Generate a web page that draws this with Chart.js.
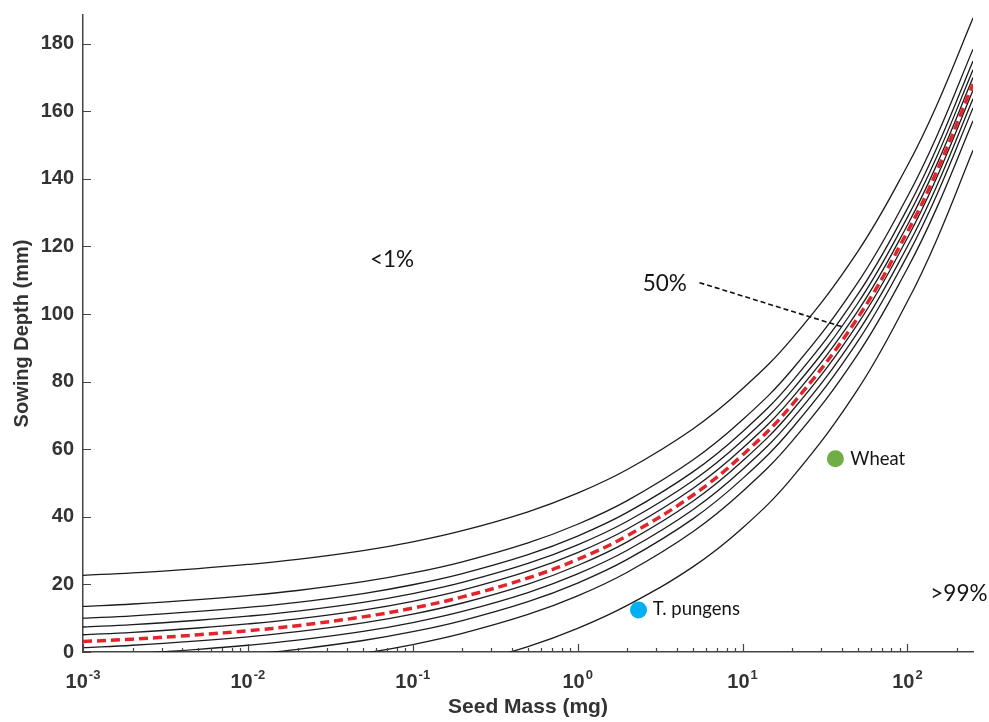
<!DOCTYPE html>
<html>
<head>
<meta charset="utf-8">
<script src="https://cdn.jsdelivr.net/npm/chart.js@4.4.1/dist/chart.umd.min.js"></script>
<style>
  html, body { margin: 0; padding: 0; background: #fff; }
  #wrap { width: 989px; height: 722px; }
</style>
</head>
<body>
<div id="wrap"><canvas id="depthChart" width="989" height="722"></canvas></div>
<script>
// seed mass (mg) sample points, log axis
var seedMass = [0.001, 0.002, 0.005, 0.01, 0.02, 0.05, 0.1, 0.2, 0.5, 1, 2, 5, 10, 20, 50, 100, 150, 250];

// sowing depth (mm) for each emergence curve
var depthP1  = [22.7, 23.4, 24.7, 25.9, 27.4, 30.0, 32.6, 35.9, 41.5, 47.0, 54.0, 66.0, 77.9, 92.8, 118.5, 143.9, 161.6, 187.6];
var depthP10 = [13.5, 14.2, 15.5, 16.7, 18.2, 20.8, 23.4, 26.7, 32.3, 37.8, 44.8, 56.8, 68.7, 83.6, 109.3, 134.7, 152.4, 178.4];
var depthP20 = [10.0, 10.7, 12.0, 13.2, 14.7, 17.3, 19.9, 23.2, 28.8, 34.3, 41.3, 53.3, 65.2, 80.1, 105.8, 131.2, 148.9, 174.9];
var depthP30 = [7.4, 8.1, 9.4, 10.6, 12.1, 14.7, 17.3, 20.6, 26.2, 31.7, 38.7, 50.7, 62.6, 77.5, 103.2, 128.6, 146.3, 172.3];
var depthP40 = [5.1, 5.8, 7.1, 8.3, 9.8, 12.4, 15.0, 18.3, 23.9, 29.4, 36.4, 48.4, 60.3, 75.2, 100.9, 126.3, 144.0, 170.0];
var depthP50 = [3.1, 3.8, 5.1, 6.3, 7.8, 10.4, 13.0, 16.3, 21.9, 27.4, 34.4, 46.4, 58.3, 73.2, 98.9, 124.3, 142.0, 168.0];
var depthP60 = [1.3, 2.0, 3.3, 4.5, 6.0, 8.6, 11.2, 14.5, 20.1, 25.6, 32.6, 44.6, 56.5, 71.4, 97.1, 122.5, 140.2, 166.2];
var depthP70 = [-1.2, -0.5, 0.8, 2.0, 3.5, 6.1, 8.7, 12.0, 17.6, 23.1, 30.1, 42.1, 54.0, 68.9, 94.6, 120.0, 137.7, 163.7];
var depthP80 = [-3.9, -3.2, -1.9, -0.7, 0.8, 3.4, 6.0, 9.3, 14.9, 20.4, 27.4, 39.4, 51.3, 66.2, 91.9, 117.3, 135.0, 161.0];
var depthP90 = [-7.7, -7.0, -5.7, -4.5, -3.0, -0.4, 2.2, 5.5, 11.1, 16.6, 23.6, 35.6, 47.5, 62.4, 88.1, 113.5, 131.2, 157.2];
var depthP99 = [-17.1, -16.4, -15.1, -13.9, -12.4, -9.8, -7.2, -3.9, 1.6, 7.0, 13.8, 25.2, 36.7, 51.6, 77.7, 103.7, 121.8, 148.5];

var blackCurves = [depthP1, depthP10, depthP20, depthP30, depthP40, depthP60, depthP70, depthP80, depthP90, depthP99];

// species points [mass, depth]
var wheatPoint = [36.6, 57.2];
var pungensPoint = [2.34, 12.4];

// text annotations [text, mass, depth, font size]
var notes = [
  ['<1%', 0.055, 116, 22.5],
  ['50%', 2.48, 109, 22.5],
  ['>99%', 137.7, 17.2, 22.5],
  ['Wheat', 45.1, 57.2, 18.5],
  ['T. pungens', 2.85, 12.6, 18.5]
];
var leaderLine = [[5.48, 109.3], [39.8, 96.3]];

var yTicks = [0, 20, 40, 60, 80, 100, 120, 140, 160, 180];
var xDecades = [-3, -2, -1, 0, 1, 2];

function pts(values) {
  return seedMass.map(function (m, i) { return { x: m, y: values[i] }; });
}

var datasets = [];
datasets.push({
  data: pts(depthP50), borderColor: '#e3242b', borderWidth: 3.5, borderDash: [9, 5],
  pointRadius: 0, tension: 0.4, order: 0
});
blackCurves.forEach(function (c) {
  datasets.push({
    data: pts(c), borderColor: '#1c1c1c', borderWidth: 1.3,
    pointRadius: 0, tension: 0.4, order: 1
  });
});
datasets.push({
  data: leaderLine.map(function (p) { return { x: p[0], y: p[1] }; }),
  borderColor: '#111', borderWidth: 1.6, borderDash: [5, 3], pointRadius: 0, order: -1, clip: false
});
datasets.push({
  data: [{ x: wheatPoint[0], y: wheatPoint[1] }], showLine: false,
  pointRadius: 8.5, pointBackgroundColor: '#70ad47', pointBorderWidth: 0, order: -2
});
datasets.push({
  data: [{ x: pungensPoint[0], y: pungensPoint[1] }], showLine: false,
  pointRadius: 8.5, pointBackgroundColor: '#00b0f0', pointBorderWidth: 0, order: -2
});

var axisDecor = {
  id: 'axisDecor',
  afterDraw: function (chart) {
    var ctx = chart.ctx, xs = chart.scales.x, ys = chart.scales.y, area = chart.chartArea;
    ctx.save();
    ctx.strokeStyle = '#444';
    ctx.lineWidth = 1.2;
    ctx.beginPath();
    // y ticks, inward
    yTicks.forEach(function (v) {
      var py = Math.round(ys.getPixelForValue(v)) + 0.5;
      ctx.moveTo(area.left, py); ctx.lineTo(area.left + 8, py);
    });
    // x ticks, inward (major and minor)
    xDecades.forEach(function (e) {
      for (var k = 1; k <= 9; k++) {
        var v = k * Math.pow(10, e);
        if (v > xs.max) break;
        var px = Math.round(xs.getPixelForValue(v)) + 0.5;
        var len = k === 1 ? 8 : 4;
        ctx.moveTo(px, area.bottom); ctx.lineTo(px, area.bottom - len);
      }
    });
    ctx.stroke();

    // x tick labels 10^n
    ctx.fillStyle = '#333';
    ctx.textBaseline = 'alphabetic';
    xDecades.forEach(function (e) {
      var px = xs.getPixelForValue(Math.pow(10, e));
      ctx.font = 'bold 20px "Liberation Sans", Arial, sans-serif';
      var w1 = ctx.measureText('10').width;
      ctx.font = 'bold 13px "Liberation Sans", Arial, sans-serif';
      var w2 = ctx.measureText(String(e)).width;
      var x0 = px - (w1 + w2 + 1) / 2;
      ctx.font = 'bold 20px "Liberation Sans", Arial, sans-serif';
      ctx.textAlign = 'left';
      ctx.fillText('10', x0, area.bottom + 36);
      ctx.font = 'bold 13px "Liberation Sans", Arial, sans-serif';
      ctx.fillText(String(e), x0 + w1 + 1, area.bottom + 27);
    });

    // annotations
    ctx.fillStyle = '#141414';
    ctx.textBaseline = 'middle';
    ctx.textAlign = 'left';
    notes.forEach(function (n) {
      ctx.font = n[3] + 'px Lato, "Open Sans", sans-serif';
      ctx.fillText(n[0], xs.getPixelForValue(n[1]), ys.getPixelForValue(n[2]));
    });
    ctx.restore();
  }
};

new Chart(document.getElementById('depthChart').getContext('2d'), {
  type: 'line',
  data: { datasets: datasets },
  plugins: [axisDecor],
  options: {
    responsive: false,
    animation: false,
    layout: { padding: { top: 15, right: 16, left: 0, bottom: 0 } },
    plugins: { legend: { display: false }, tooltip: { enabled: false } },
    scales: {
      x: {
        type: 'logarithmic',
        min: 0.001,
        max: 250,
        grid: { display: false, drawTicks: false },
        border: { display: true, color: '#444', width: 1.5 },
        ticks: { display: false },
        title: {
          display: true, text: 'Seed Mass (mg)', color: '#333',
          font: { family: '"Liberation Sans", Arial, sans-serif', size: 21, weight: 'bold' },
          padding: { top: 4, bottom: 2 }
        },
        afterFit: function (scale) { scale.height = 70; }
      },
      y: {
        type: 'linear',
        min: 0,
        max: 188.5,
        grid: { display: false, drawTicks: false },
        border: { display: true, color: '#444', width: 1.5 },
        afterBuildTicks: function (scale) {
          scale.ticks = yTicks.map(function (v) { return { value: v }; });
        },
        ticks: {
          color: '#333', padding: 9,
          font: { family: '"Liberation Sans", Arial, sans-serif', size: 20, weight: 'bold' }
        },
        title: {
          display: true, text: 'Sowing Depth (mm)', color: '#333',
          font: { family: '"Liberation Sans", Arial, sans-serif', size: 20, weight: 'bold' },
          padding: { top: 10, bottom: 0 }
        },
        afterFit: function (scale) {
          scale.width = 83;
          scale.paddingTop = 0;
          scale.paddingBottom = 0;
        }
      }
    }
  }
});
</script>
</body>
</html>
